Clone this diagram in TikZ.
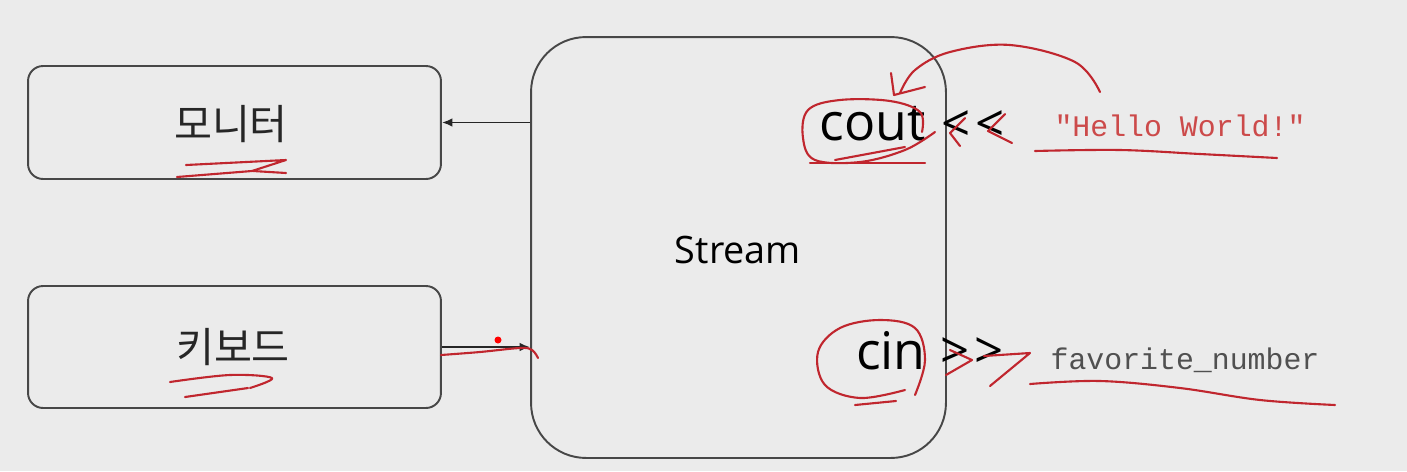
\documentclass[tikz,border=0pt]{standalone}
\usepackage{fontspec}
\setmainfont{Open Sans}
\setmonofont{Liberation Mono}
\newfontfamily\kofont{Noto Sans CJK KR}
\usetikzlibrary{arrows.meta}

\definecolor{bgcol}{HTML}{EBEBEB}
\definecolor{edgecol}{HTML}{474747}
\definecolor{inkred}{HTML}{C0262E}
\definecolor{strred}{HTML}{CC4A4A}
\definecolor{vargray}{HTML}{505050}

\begin{document}
\begin{tikzpicture}[
  x=0.02cm, y=-0.02cm,
  box/.style={
    rectangle, rounded corners=0.3cm, draw=edgecol, line width=1.1pt,
    minimum width=8.26cm, inner sep=0pt
  },
  streambox/.style={
    rectangle, rounded corners=1.1cm, draw=edgecol, line width=1.1pt,
    minimum width=8.3cm, minimum height=8.42cm, inner sep=0pt
  },
  kolabel/.style={font=\kofont\fontsize{23.5}{28}\selectfont, text=black!85},
  iolabel/.style={font=\fontsize{29.5}{34}\selectfont, text=black},
  oplabel/.style={font=\fontsize{29}{34}\selectfont, text=black, inner sep=0pt},
  code/.style={font=\ttfamily\fontsize{17}{20}\selectfont},
  flow/.style={-{Latex[length=6pt,width=5pt]}, draw=black!85, line width=1.1pt},
  ink/.style={draw=inkred, line width=1.2pt, line cap=round, line join=round},
]

% background and page size
\fill[bgcol] (0,0) rectangle (1407,471);
\useasboundingbox (0,0) rectangle (1407,471);

% devices (left)
\node[box, minimum height=2.26cm] (mon) at (234.5,122.5) {};
\node[kolabel] (monlbl) at (231,124) {모니터};
\node[box, minimum height=2.44cm] (kbd) at (234.5,347) {};
\node[kolabel] (kbdlbl) at (233,347) {키보드};

% stream (middle)
\node[streambox] (stream) at (738.5,247.5) {};
\node[font=\fontsize{21.5}{26}\selectfont] (streamlbl) at (738,250) {Stream};
\node[iolabel] (cout) at (873,124) {cout};
\node[iolabel] (cin) at (891,351) {cin};

% operators and operands (right)
\node[oplabel] (shl) at (973,126) {<\kern3pt<};
\node[oplabel] (shr) at (972,353) {>\kern3pt>};
\node[code, text=strred] (hello) at (1180,126) {"Hello World!"};
\node[code, text=vargray] (favnum) at (1185,360) {favorite\_number};

% connectors
\draw[flow] (stream.west |- mon.east) -- (mon.east);
\draw[flow] (kbd.east) -- (stream.west |- kbd.east);

% pen marks
\draw[ink] plot[smooth, tension=0.6] coordinates {(1100,92) (1075,62) (1010,45) (950,52) (915,70) (900,93)};
\draw[ink] (891,73) -- (894,95) -- (925,87);
\draw[ink] plot[smooth, tension=0.6] coordinates {(922,132) (920,112) (890,101) (840,100) (808,110) (803,138) (815,160) (860,162) (905,150) (935,132)};
\draw[ink] (810,163) -- (925,163);
\draw[ink] (835,160) -- (905,147);
\draw[ink] (965,118) -- (950,133) -- (960,146);
\draw[ink] (1005,114) -- (988,131) -- (1012,143);
\draw[ink] plot[smooth, tension=0.6] coordinates {(1035,151) (1120,150) (1200,154) (1277,158)};
\draw[ink] plot[smooth, tension=0.6] coordinates {(915,395) (925,360) (915,328) (880,320) (840,328) (818,352) (825,385) (860,398) (905,390)};
\draw[ink] (855,405) -- (896,401);
\draw[ink] (950,350) -- (972,360) -- (946,375);
\draw[ink] (984,356) -- (1030,353) -- (990,386);
\draw[ink] plot[smooth, tension=0.6] coordinates {(1030,384) (1100,381) (1180,388) (1260,400) (1335,405)};
\draw[ink] (186,165) -- (286,160) -- (252,171) -- (177,177);
\draw[ink] (253,171) -- (286,173);
\draw[ink] plot[smooth, tension=0.6] coordinates {(170,382) (230,375) (272,378) (250,388)};
\draw[ink] (248,388) -- (185,397);
\draw[ink] plot[smooth, tension=0.6] coordinates {(441,355) (480,352) (520,348) (532,350) (538,358)};
\fill[red] (498,340) circle (3.5);

\end{tikzpicture}
\end{document}
